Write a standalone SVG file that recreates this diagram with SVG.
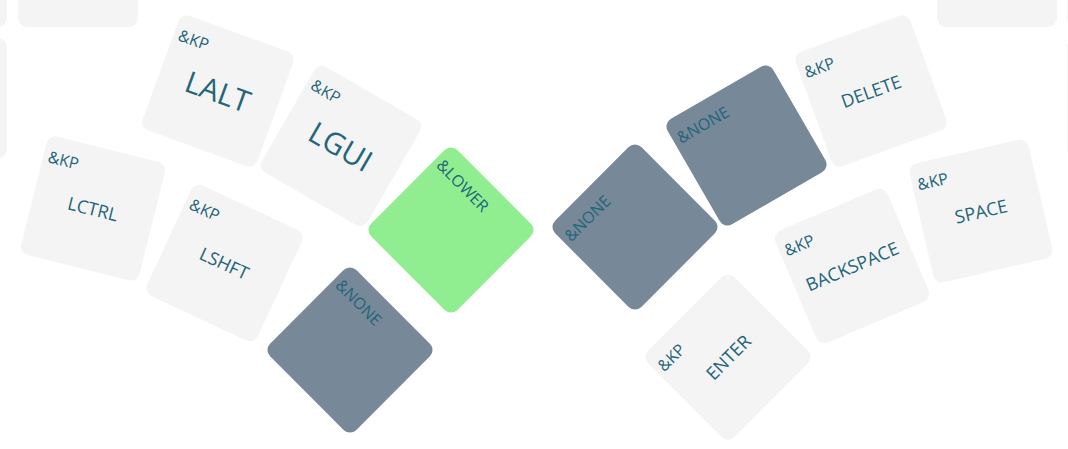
<svg xmlns="http://www.w3.org/2000/svg" width="1068" height="449" viewBox="0 0 1068 449">
<style>
  .k { fill: #f4f4f4; }
  .g { fill: #90ee90; }
  .n { fill: #778899; }
  text { font-family: "Open Sans", "Noto Sans", "Liberation Sans", sans-serif; fill: #23657a; }
  .tl { font-size: 16px; text-anchor: start; }
  .c { font-size: 18px; text-anchor: middle; dominant-baseline: central; }
  .big { font-size: 30px; }
</style>
<defs>
  <rect id="kr" x="-61" y="-61" width="122" height="122" rx="9" ry="9"/>
</defs>
<rect width="1068" height="449" fill="#ffffff"/>
<g id="connectors"/>
<g id="key-p1"><rect class="k" x="-113" y="-93" width="120" height="120" rx="9"/></g>
<g id="key-p2"><rect class="k" x="-113" y="38" width="120" height="120" rx="9"/></g>
<g id="key-p3"><rect class="k" x="18" y="-93" width="120" height="120" rx="9"/></g>
<g id="key-p4"><rect class="k" x="937" y="-93" width="120" height="120" rx="9"/></g>
<g id="key-p5"><rect class="k" x="1067" y="-93" width="120" height="120" rx="9"/></g>
<g id="key-p6"><rect class="k" x="1067" y="38" width="120" height="120" rx="9"/></g>

<g id="key-lctrl" transform="translate(93,208.5) rotate(14)">
  <use href="#kr" class="k"/>
  <text class="tl" x="-56" y="-34">&amp;KP</text>
  <text class="c" x="0" y="0">LCTRL</text>
</g>
<g id="key-lalt" transform="translate(218,91) rotate(20)">
  <use href="#kr" class="k"/>
  <text class="tl" x="-56" y="-34">&amp;KP</text>
  <text class="c big" x="0" y="0">LALT</text>
</g>
<g id="key-lshft" transform="translate(224.5,263) rotate(25)">
  <use href="#kr" class="k"/>
  <text class="tl" x="-56" y="-34">&amp;KP</text>
  <text class="c" x="0" y="0">LSHFT</text>
</g>
<g id="key-lgui" transform="translate(341,146) rotate(30)">
  <use href="#kr" class="k"/>
  <text class="tl" x="-56" y="-34">&amp;KP</text>
  <text class="c big" x="0" y="0">LGUI</text>
</g>
<g id="key-lower" transform="translate(451,230) rotate(45)">
  <use href="#kr" class="g"/>
  <text class="tl" x="-56" y="-34">&amp;LOWER</text>
</g>
<g id="key-none-l" transform="translate(350,350) rotate(45)">
  <use href="#kr" class="n"/>
  <text class="tl" x="-56" y="-34">&amp;NONE</text>
</g>
<g id="key-none-r1" transform="translate(635,227) rotate(-45)">
  <use href="#kr" class="n"/>
  <text class="tl" x="-56" y="-34">&amp;NONE</text>
</g>
<g id="key-none-r2" transform="translate(746.5,145.5) rotate(-30)">
  <use href="#kr" class="n"/>
  <text class="tl" x="-56" y="-34">&amp;NONE</text>
</g>
<g id="key-enter" transform="translate(728,357) rotate(-45)">
  <use href="#kr" class="k"/>
  <text class="tl" x="-56" y="-34">&amp;KP</text>
  <text class="c" x="0" y="0">ENTER</text>
</g>
<g id="key-backspace" transform="translate(852,266) rotate(-23)">
  <use href="#kr" class="k"/>
  <text class="tl" x="-56" y="-34">&amp;KP</text>
  <text class="c" x="0" y="0">BACKSPACE</text>
</g>
<g id="key-delete" transform="translate(871,91) rotate(-20)">
  <use href="#kr" class="k"/>
  <text class="tl" x="-56" y="-34">&amp;KP</text>
  <text class="c" x="0" y="0">DELETE</text>
</g>
<g id="key-space" transform="translate(981,211) rotate(-13)">
  <use href="#kr" class="k"/>
  <text class="tl" x="-56" y="-34">&amp;KP</text>
  <text class="c" x="0" y="0">SPACE</text>
</g>
</svg>
